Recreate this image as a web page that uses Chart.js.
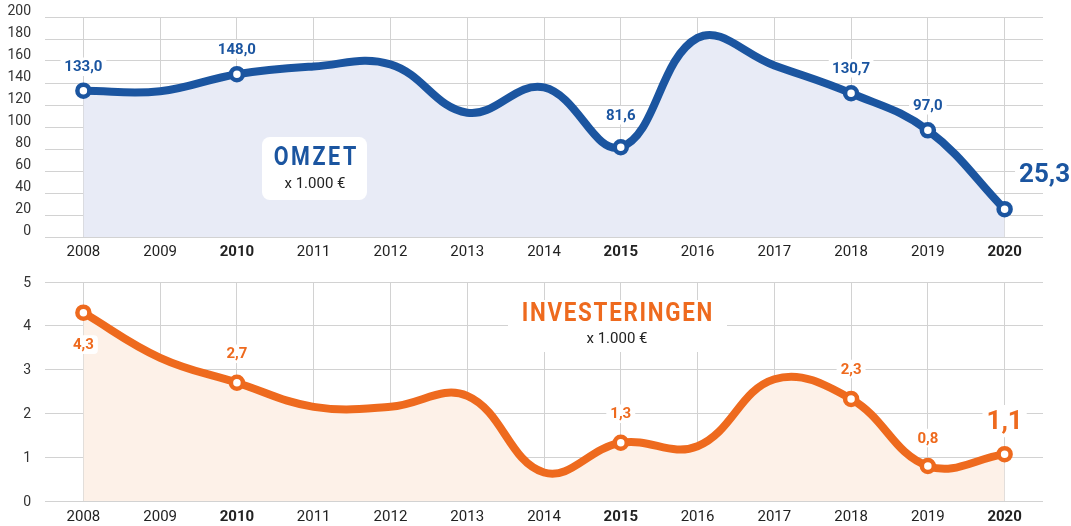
<!DOCTYPE html>
<html>
<head>
<meta charset="utf-8">
<script src="https://cdn.jsdelivr.net/npm/chart.js@4/dist/chart.umd.min.js"></script>
<style>
  body { margin: 0; background: #fff; }
  #wrap { position: relative; width: 1071px; height: 526px; }
  canvas { position: absolute; left: 0; }
  #omzetChart { top: 0; }
  #invChart { top: 263px; }
</style>
</head>
<body>
<div id="wrap">
  <canvas id="omzetChart" width="1071" height="263"></canvas>
  <canvas id="invChart" width="1071" height="263"></canvas>
</div>
<script>
// years on the x axis
const years = ['2008', '2009', '2010', '2011', '2012', '2013', '2014', '2015', '2016', '2017', '2018', '2019', '2020'];
const boldYears = ['2010', '2015', '2020'];

// omzet x 1.000 euro
const omzet = [133.0, 132.5, 148.0, 155, 157, 113, 136, 81.6, 181, 156, 130.7, 97.0, 25.3];
// investeringen x 1.000 euro
const investeringen = [4.3, 3.27, 2.7, 2.15, 2.15, 2.4, 0.65, 1.33, 1.25, 2.78, 2.33, 0.8, 1.07];

// which points get a marker + value label
const markedPoints = [0, 2, 7, 10, 11, 12];

const omzetTicks = [0, 20, 40, 60, 80, 100, 120, 140, 160, 180, 200];
const invTicks = [0, 1, 2, 3, 4, 5];

const BLUE = '#1b55a0';
const ORANGE = '#ee6a1e';
const GRID = '#d2d2d2';
const FONT = 'Roboto, "DejaVu Sans", sans-serif';

function roundRect(ctx, x, y, w, h, r) {
    ctx.beginPath();
    ctx.moveTo(x + r, y);
    ctx.arcTo(x + w, y, x + w, y + h, r);
    ctx.arcTo(x + w, y + h, x, y + h, r);
    ctx.arcTo(x, y + h, x, y, r);
    ctx.arcTo(x, y, x + w, y, r);
    ctx.closePath();
}

// value labels with a white box behind them
const valueLabels = {
    id: 'valueLabels',
    afterDatasetsDraw(chart, args, opts) {
        const meta = chart.getDatasetMeta(0);
        const values = chart.data.datasets[0].data;
        const ctx = chart.ctx;
        opts.items.forEach(item => {
            const el = meta.data[item.index];
            const text = values[item.index].toFixed(1).replace('.', ',');
            const size = item.size || 15;
            ctx.save();
            ctx.font = `bold ${size}px ${FONT}`;
            const w = ctx.measureText(text).width;
            const x = el.x + (item.dx || 0);
            const y = el.y + item.dy;
            ctx.fillStyle = '#fff';
            roundRect(ctx, x - w / 2 - 4, y - size * 0.62, w + 8, size * 1.24, 4);
            ctx.fill();
            ctx.fillStyle = opts.color;
            ctx.textAlign = 'center';
            ctx.textBaseline = 'middle';
            ctx.fillText(text, x, y + 1);
            ctx.restore();
        });
    }
};

// title box ("OMZET" / "INVESTERINGEN")
const titleBox = {
    id: 'titleBox',
    afterDatasetsDraw(chart, args, opts) {
        const ctx = chart.ctx;
        const b = opts.box;
        ctx.save();
        ctx.fillStyle = '#fff';
        roundRect(ctx, b.x, b.y, b.w, b.h, 8);
        ctx.fill();
        ctx.textAlign = 'center';
        ctx.textBaseline = 'middle';
        // condensed look for the heading
        ctx.save();
        ctx.translate(opts.cx, opts.titleY);
        ctx.scale(0.86, 1);
        ctx.font = `bold ${opts.size}px ${FONT}`;
        ctx.letterSpacing = opts.spacing + 'px';
        ctx.fillStyle = opts.color;
        ctx.fillText(opts.title, opts.spacing / 2, 0);
        ctx.restore();
        ctx.font = `15px ${FONT}`;
        ctx.fillStyle = '#222';
        ctx.fillText('x 1.000 €', opts.cx, opts.subY);
        ctx.restore();
    }
};

function makeChart(canvas, cfg) {
    return new Chart(canvas, {
        type: 'line',
        data: {
            labels: years,
            datasets: [{
                data: cfg.values,
                borderColor: cfg.color,
                borderWidth: 8,
                backgroundColor: cfg.fill,
                fill: 'origin',
                tension: 0.4,
                borderCapStyle: 'round',
                pointRadius: ctx => markedPoints.includes(ctx.dataIndex) ? 6 : 0,
                pointBorderWidth: 4.5,
                pointBorderColor: cfg.color,
                pointBackgroundColor: '#fff',
                clip: false
            }]
        },
        options: {
            responsive: false,
            animation: false,
            devicePixelRatio: 1,
            layout: { padding: { top: cfg.top, right: 28, left: 0, bottom: 0 } },
            plugins: {
                legend: { display: false },
                tooltip: { enabled: false },
                valueLabels: { color: cfg.color, items: cfg.labels },
                titleBox: cfg.titleBox
            },
            scales: {
                x: {
                    offset: true,
                    grid: { color: GRID, offset: false, drawTicks: false },
                    border: { display: false },
                    ticks: {
                        padding: cfg.xPad,
                        color: '#222',
                        font: ctx => ({
                            family: FONT,
                            size: 15,
                            weight: boldYears.includes(years[ctx.index]) ? 'bold' : 'normal'
                        })
                    },
                    afterFit: axis => { axis.height = cfg.xHeight; }
                },
                y: {
                    min: cfg.ticks[0],
                    max: cfg.ticks[cfg.ticks.length - 1],
                    afterBuildTicks: axis => { axis.ticks = cfg.ticks.map(v => ({ value: v })); },
                    grid: { color: GRID, drawTicks: false },
                    border: { display: false },
                    ticks: {
                        padding: 14,
                        color: '#333',
                        labelOffset: cfg.yLabelOffset,
                        font: { family: FONT, size: 14 }
                    },
                    afterFit: axis => {
                        axis.width = 45;
                        axis.paddingTop = 0;
                        axis.paddingBottom = 0;
                    }
                }
            }
        },
        plugins: [valueLabels, titleBox]
    });
}

makeChart(document.getElementById('omzetChart'), {
    values: omzet,
    color: BLUE,
    fill: '#e8ebf6',
    ticks: omzetTicks,
    top: 17,
    xHeight: 26,
    xPad: 6,
    yLabelOffset: -6,
    labels: [
        { index: 0, dy: -24 },
        { index: 2, dy: -25 },
        { index: 7, dy: -32 },
        { index: 10, dy: -25 },
        { index: 11, dy: -25 },
        { index: 12, dx: 40, dy: -35, size: 26 }
    ],
    titleBox: {
        box: { x: 262, y: 137, w: 105, h: 63 },
        cx: 315, titleY: 159, subY: 184,
        title: 'OMZET', size: 25, spacing: 3, color: BLUE
    }
});

makeChart(document.getElementById('invChart'), {
    values: investeringen,
    color: ORANGE,
    fill: '#fdf1e8',
    ticks: invTicks,
    top: 19,
    xHeight: 25,
    xPad: 7,
    yLabelOffset: 1,
    labels: [
        { index: 0, dy: 32 },
        { index: 2, dy: -29 },
        { index: 7, dy: -29 },
        { index: 10, dy: -30 },
        { index: 11, dy: -28 },
        { index: 12, dy: -33, size: 26 }
    ],
    titleBox: {
        box: { x: 508, y: 37, w: 219, h: 52 },
        cx: 617, titleY: 51, subY: 76,
        title: 'INVESTERINGEN', size: 26, spacing: 2, color: ORANGE
    }
});
</script>
</body>
</html>
